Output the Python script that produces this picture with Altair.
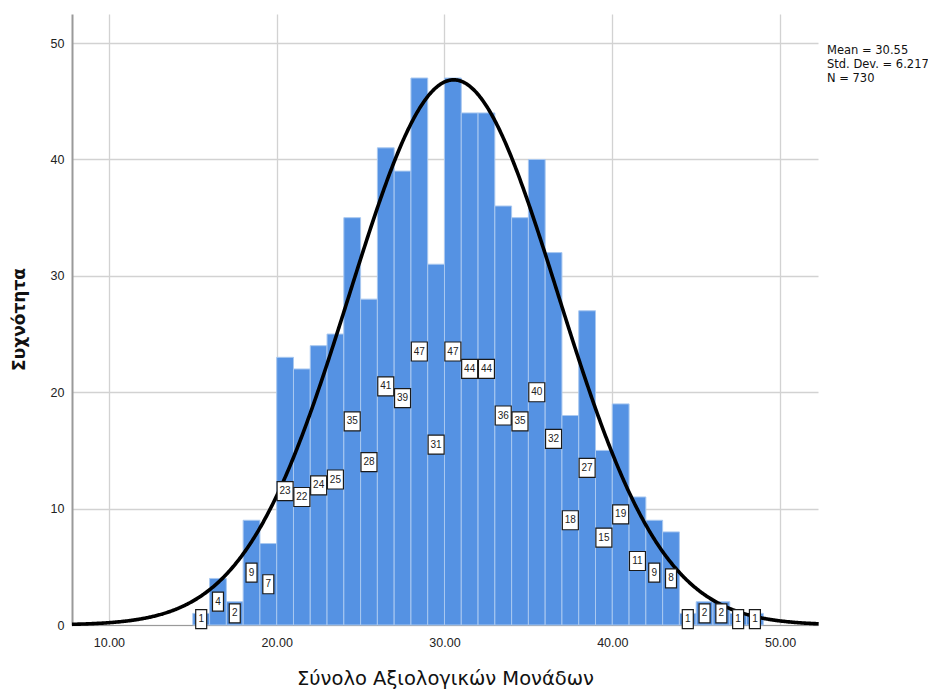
import altair as alt
import pandas as pd

# ---- data ----
bin_starts = [15, 16, 17, 18, 19, 20, 21, 22, 23, 24, 25, 26, 27, 28, 29, 30, 31,
              32, 33, 34, 35, 36, 37, 38, 39, 40, 41, 42, 43, 44, 45, 46, 47, 48]
counts = [1, 4, 2, 9, 7, 23, 22, 24, 25, 35, 28, 41, 39, 47, 31, 47, 44,
          44, 36, 35, 40, 32, 18, 27, 15, 19, 11, 9, 8, 1, 2, 2, 1, 1]
BIN_WIDTH = 1.0
MEAN = 30.55
SD = 6.217
N = 730
stats_lines = ["Mean = 30.55", "Std. Dev. = 6.217", "N = 730"]
x_ticks = [10, 20, 30, 40, 50]
y_ticks = [0, 10, 20, 30, 40, 50]
X_DOMAIN = [7.8, 52.26]
Y_DOMAIN = [0, 52.5]
x_title = "Σύνολο Αξιολογικών Μονάδων"
y_title = "Συχνότητα"

FONT = "Liberation Sans"
TITLE_FONT = "DejaVu Sans"
BAR = "#5592E3"

df = pd.DataFrame({"start": bin_starts, "count": counts})
df["end"] = df["start"] + BIN_WIDTH
df["center"] = df["start"] + BIN_WIDTH / 2
df["mid"] = df["count"] / 2
df["label"] = df["count"].astype(str)

xs = alt.Scale(domain=X_DOMAIN, nice=False, zero=False)
ys = alt.Scale(domain=Y_DOMAIN, nice=False)

x_axis = alt.Axis(values=x_ticks, format=".2f", grid=True, ticks=False,
                  title=x_title, titleX=373, titleY=59, titleAlign="center",
                  titleBaseline="alphabetic", titleFontSize=19.5,
                  titleFontWeight="normal")
y_axis = alt.Axis(values=y_ticks, format="d", grid=True, ticks=False,
                  title=y_title, titleX=-47.5, titleY=305, titleAlign="center",
                  titleBaseline="alphabetic", titleAngle=270,
                  titleFontWeight="bold", titleFontSize=17,
                  domainWidth=2, domainColor="#9a9a9a")

base = alt.Chart(df)

bars = base.mark_rect(fill=BAR, stroke="#A9C8F0", strokeWidth=1).encode(
    x=alt.X("start:Q", scale=xs, axis=x_axis),
    x2="end:Q",
    y=alt.Y("count:Q", scale=ys, axis=y_axis),
    y2=alt.datum(0),
)

curve = alt.Chart(
    alt.sequence(start=X_DOMAIN[0], stop=X_DOMAIN[1] + 0.05, step=0.05, as_="x")
).transform_calculate(
    y=f"{N} * {BIN_WIDTH} / ({SD} * sqrt(2 * PI)) * exp(-0.5 * pow((datum.x - {MEAN}) / {SD}, 2))"
).mark_line(color="black", strokeWidth=3.6).encode(
    x=alt.X("x:Q", scale=xs),
    y=alt.Y("y:Q", scale=ys),
)

box1 = base.transform_filter("datum.count < 10").mark_rect(
    fill="white", stroke="#1a1a1a", strokeWidth=1.2,
    xOffset=-5.5, x2Offset=5.5, yOffset=-9.5, y2Offset=9.5
).encode(x=alt.X("center:Q", scale=xs), x2="center:Q",
         y=alt.Y("mid:Q", scale=ys), y2="mid:Q")

box2 = base.transform_filter("datum.count >= 10").mark_rect(
    fill="white", stroke="#1a1a1a", strokeWidth=1.2,
    xOffset=-8, x2Offset=8, yOffset=-9.5, y2Offset=9.5
).encode(x=alt.X("center:Q", scale=xs), x2="center:Q",
         y=alt.Y("mid:Q", scale=ys), y2="mid:Q")

labels = base.mark_text(font=FONT, fontSize=10, color="#222222",
                        align="center", baseline="middle").encode(
    x=alt.X("center:Q", scale=xs),
    y=alt.Y("mid:Q", scale=ys),
    text="label:N",
)

stats = alt.Chart(pd.DataFrame({"a": [0]})).mark_text(
    font=TITLE_FONT, fontSize=11.5, color="#111111", align="left", baseline="middle",
    lineHeight=14
).encode(
    x=alt.value(755),
    y=alt.value(37),
    text=alt.value(stats_lines),
)

chart = alt.layer(bars, curve, box1, box2, labels, stats).properties(
    width=746, height=611,
    autosize=alt.AutoSizeParams(type="none"),
    padding={"left": 64, "top": 6, "right": 110, "bottom": 64},
    background="white",
).configure_view(strokeWidth=0).configure_axis(
    labelFont=FONT, titleFont=TITLE_FONT, labelFontSize=12.5, labelColor="#222222",
    titleColor="#111111", gridColor="#d2d2d2", gridWidth=1.3,
    domainColor="#9a9a9a",
).configure_axisX(labelPadding=11).configure_axisY(labelPadding=8)

chart.save("out.html", embed_options={"renderer": "svg", "actions": False})
